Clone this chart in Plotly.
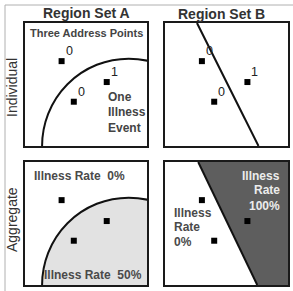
import plotly.graph_objects as go

W, H = 293, 291

# ---- data ----
point_x = [0.30, 0.67, 0.40]
point_y = [0.69, 0.52, 0.36]
event_labels = ["0", "1", "0"]

# region A boundary: circle (center x, center y, radius) in panel units
circle_a = (0.85, 0.0, 0.71)
# region B boundary: straight line, x at top and x at bottom of panel
line_b_top = [0.26, 0.27]      # individual, aggregate
line_b_bottom = [0.76, 0.75]

col_titles = ["Region Set A", "Region Set B"]
row_titles = ["Individual", "Aggregate"]

# ---- panel layout (pixels) ----
col_px = [(25, 147), (165, 288)]
row_px = [(23, 146), (162, 285)]

fig = go.Figure()
layout = dict(width=W, height=H, margin=dict(l=0, r=0, t=0, b=0),
              paper_bgcolor="white", plot_bgcolor="white", showlegend=False)

shapes = []
annotations = []

fontb = dict(family="Liberation Sans", size=10.5, color="#444")

def ann(text, x, y, xref, yref, xanchor="center", font=fontb, **kw):
    annotations.append(dict(text=text, x=x, y=y, xref=xref, yref=yref, xanchor=xanchor,
                            yanchor="middle", showarrow=False, font=font, **kw))

k = 0
for r in range(2):
    for c in range(2):
        k += 1
        xa = "xaxis" if k == 1 else f"xaxis{k}"
        ya = "yaxis" if k == 1 else f"yaxis{k}"
        xr = "x" if k == 1 else f"x{k}"
        yr = "y" if k == 1 else f"y{k}"
        x0, x1 = col_px[c]
        y0, y1 = row_px[r]
        axcommon = dict(range=[0, 1], showgrid=False, zeroline=False, showticklabels=False,
                        ticks="", showline=True, mirror=True, linecolor="#1a1a1a", linewidth=2,
                        fixedrange=True)
        layout[xa] = dict(domain=[x0 / W, x1 / W], anchor=yr, **axcommon)
        layout[ya] = dict(domain=[1 - y1 / H, 1 - y0 / H], anchor=xr, **axcommon)

        if c == 0:
            cx, cy, rad = circle_a
            shapes.append(dict(type="circle", xref=xr, yref=yr,
                               x0=cx - rad, x1=cx + rad, y0=cy - rad, y1=cy + rad,
                               line=dict(color="#111", width=2),
                               fillcolor="#e2e2e2" if r == 1 else "rgba(0,0,0,0)",
                               layer="below"))
        else:
            if r == 1:
                fig.add_trace(go.Scatter(
                    x=[line_b_top[r], 1, 1, line_b_bottom[r], line_b_top[r]],
                    y=[1, 1, 0, 0, 1], fill="toself", fillcolor="#5e5e5e",
                    mode="none", xaxis=xr, yaxis=yr, hoverinfo="skip"))
            fig.add_trace(go.Scatter(x=[line_b_top[r], line_b_bottom[r]], y=[1, 0],
                                     mode="lines", line=dict(color="#111", width=2),
                                     xaxis=xr, yaxis=yr, hoverinfo="skip"))

        fig.add_trace(go.Scatter(
            x=point_x, y=point_y, xaxis=xr, yaxis=yr, mode="markers",
            marker=dict(symbol="square", size=6, color="black"),
            hoverinfo="skip"))
        if r == 0:
            for px_, py_, lab in zip(point_x, point_y, event_labels):
                annotations.append(dict(text=lab, x=px_, y=py_, xref=xr, yref=yr,
                                        xanchor="left", yanchor="bottom", xshift=2, yshift=1,
                                        showarrow=False,
                                        font=dict(family="Liberation Sans", size=12.5, color="#222")))

# column titles
ann("<b>Region Set A</b>", 86 / W, 1 - 13 / H, "paper", "paper",
    font=dict(family="Liberation Sans", size=14, color="#333"))
ann("<b>Region Set B</b>", 221 / W, 1 - 14 / H, "paper", "paper",
    font=dict(family="Liberation Sans", size=14, color="#333"))
# row titles
ann("Individual", 12 / W, 1 - 88 / H, "paper", "paper", textangle=-90,
    font=dict(family="Liberation Sans", size=14, color="#333"))
ann("Aggregate", 12 / W, 1 - 220 / H, "paper", "paper", textangle=-90,
    font=dict(family="Liberation Sans", size=14, color="#333"))

# panel texts
ann("<b>Three Address Points</b>", 0.5, 0.92, "x", "y",
    font=dict(family="Liberation Sans", size=11, color="#444"))
for txt, yy in zip(["One", "Illness", "Event"], [0.40, 0.28, 0.15]):
    ann(f"<b>{txt}</b>", 0.66, yy, "x", "y", xanchor="left",
        font=dict(family="Liberation Sans", size=12, color="#444"))
big = dict(family="Liberation Sans", size=12, color="#4a4a4a")
ann("<b>Illness Rate  0%</b>", 0.06, 0.89, "x3", "y3", xanchor="left", font=big)
ann("<b>Illness Rate  50%</b>", 0.975, 0.08, "x3", "y3", xanchor="right", font=big)
for txt, yy in zip(["Illness", "Rate", "100%"], [0.89, 0.77, 0.64]):
    ann(f"<b>{txt}</b>", 0.95, yy, "x4", "y4", xanchor="right",
        font=dict(family="Liberation Sans", size=12, color="#ececec"))
for txt, yy in zip(["Illness", "Rate", "0%"], [0.585, 0.47, 0.35]):
    ann(f"<b>{txt}</b>", 0.06, yy, "x4", "y4", xanchor="left", font=big)

# outer frame
shapes.append(dict(type="line", xref="paper", yref="paper", x0=5 / W, x1=5 / W,
                   y0=0, y1=1 - 5 / H, line=dict(color="#b0b0b0", width=1)))
shapes.append(dict(type="line", xref="paper", yref="paper", x0=5 / W, x1=1,
                   y0=1 - 5 / H, y1=1 - 5 / H, line=dict(color="#b0b0b0", width=1)))

layout["shapes"] = shapes
layout["annotations"] = annotations
fig.update_layout(**layout)
fig.write_html("out.html", config={"displayModeBar": False, "staticPlot": True},
               post_script="document.body.style.margin='0';document.body.style.overflow='hidden';")
